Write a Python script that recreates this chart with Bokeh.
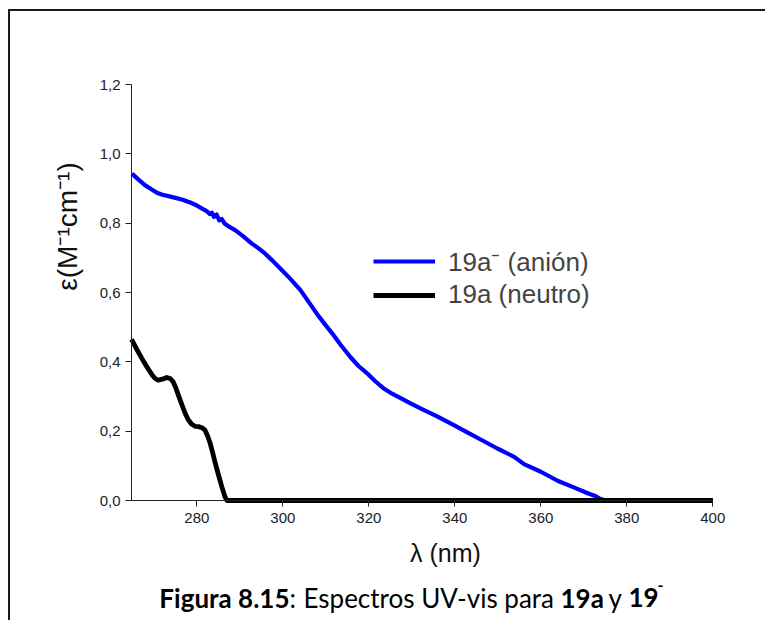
import math
from bokeh.plotting import figure
from bokeh.models import Range1d, FixedTicker, Label, Legend, LegendItem
from bokeh.embed import file_html
from bokeh.resources import INLINE

# ---- data ----
wl_anion = [264.9, 266.5, 268.0, 269.5, 270.7, 272.0, 273.4, 275.0, 276.5, 278.8,
            280.0, 281.2, 282.3, 283.0, 283.5, 284.0, 284.6, 285.2, 285.8, 286.5,
            287.5, 288.9, 290.8, 292.8, 294.3, 295.9, 297.6, 299.4, 301.7, 304.1,
            306.0, 307.9, 309.8, 311.8, 313.7, 315.7, 317.6, 319.6, 321.5, 323.5,
            325.4, 327.4, 329.7, 332.0, 336.0, 340.0, 343.0, 346.0, 349.9, 353.8,
            356.1, 360.0, 363.9, 367.8, 370.9, 372.5, 373.6, 375.0, 400.0]
eps_anion = [0.943, 0.925, 0.909, 0.897, 0.888, 0.882, 0.878, 0.873, 0.868, 0.858,
             0.851, 0.842, 0.835, 0.826, 0.830, 0.818, 0.825, 0.808, 0.812, 0.798,
             0.790, 0.780, 0.762, 0.741, 0.728, 0.712, 0.692, 0.669, 0.640, 0.607,
             0.573, 0.539, 0.508, 0.477, 0.445, 0.414, 0.388, 0.367, 0.344, 0.323,
             0.308, 0.295, 0.280, 0.266, 0.242, 0.216, 0.196, 0.176, 0.150, 0.126,
             0.105, 0.083, 0.057, 0.037, 0.021, 0.014, 0.006, 0.0, 0.0]

wl_neutral = [264.8, 266.0, 267.2, 268.4, 269.6, 270.3, 271.0, 272.0, 273.0, 273.8,
              274.5, 275.1, 275.7, 276.5, 277.3, 278.0, 278.8, 279.6, 280.4, 281.2,
              281.9, 282.5, 283.1, 283.7, 284.3, 285.0, 285.8, 286.5, 287.0, 400.0]
eps_neutral = [0.465, 0.437, 0.410, 0.385, 0.362, 0.352, 0.347, 0.350, 0.355, 0.352,
               0.342, 0.325, 0.304, 0.277, 0.251, 0.233, 0.220, 0.214, 0.213, 0.210,
               0.203, 0.186, 0.165, 0.137, 0.107, 0.075, 0.040, 0.012, 0.0, 0.0]

series_labels = ["19a\u207b (anión)", "19a (neutro)"]
x_bounds = (264.8, 400)
y_bounds = (0.0, 1.2)
x_ticks = [280, 300, 320, 340, 360, 380, 400]
y_ticks = [0.0, 0.2, 0.4, 0.6, 0.8, 1.0, 1.2]
y_tick_labels = ["0,0", "0,2", "0,4", "0,6", "0,8", "1,0", "1,2"]
x_title = "\u03bb (nm)"
y_title = "\u03b5(M\u207b\u00b9cm\u207b\u00b9)"
caption_parts = ["Figura 8.15", ":", "Espectros UV-vis para", "19a", "y", "19"]
caption_styles = ["bold", "normal", "normal", "bold", "normal", "bold"]
caption_sup = "-"

# ---- layout (page pixels) ----
W, H = 757, 611            # canvas size
OX, OY = 10, 11            # canvas origin on the page (margin + border)
AX_L, AX_R = 131.0, 712.3  # page x of x_bounds
AX_B, AX_T = 500.0, 84.0   # page y of y_bounds
kx = (AX_R - AX_L) / (x_bounds[1] - x_bounds[0])
ky = (AX_B - AX_T) / (y_bounds[1] - y_bounds[0])
xr0 = x_bounds[0] - (AX_L - OX) / kx
yr1 = y_bounds[1] + (AX_T - OY) / ky
TXT_DY = -9                # correction for the label baseline placement


def dx(px):
    return xr0 + (px - OX) / kx


def dy(py):
    return yr1 - (py - OY) / ky


AX_FONT = "Liberation Sans"
CAP_FONT = "Lato"

p = figure(width=W, height=H, output_backend="svg", toolbar_location=None,
           x_range=Range1d(xr0, xr0 + W / kx), y_range=Range1d(yr1 - H / ky, yr1),
           min_border=0, min_border_left=0, min_border_right=0,
           min_border_top=0, min_border_bottom=0,
           styles={"margin-left": "8px", "margin-top": "9px",
                   "border-top": "2px solid #1a1a1a", "border-left": "2px solid #1a1a1a"})
p.title.visible = False
p.grid.visible = False
p.outline_line_color = None
p.background_fill_color = "white"
p.border_fill_color = "white"

r1 = p.line(wl_anion, eps_anion, line_color="#0000ff", line_width=4.2, line_join="round")
r2 = p.line(wl_neutral, eps_neutral, line_color="#000000", line_width=4.8, line_join="round")

for ax in (p.xaxis[0], p.yaxis[0]):
    ax.axis_line_color = "#222222"
    ax.major_tick_line_color = "#222222"
    ax.major_tick_out = 6
    ax.major_tick_in = 0
    ax.minor_tick_line_color = None
    ax.major_label_text_font = AX_FONT
    ax.major_label_text_font_size = "15px"
    ax.major_label_text_color = "#222222"

p.xaxis.fixed_location = y_bounds[0]
p.xaxis.bounds = x_bounds
p.xaxis.ticker = FixedTicker(ticks=x_ticks)
p.xaxis.major_label_standoff = 6
p.yaxis.fixed_location = x_bounds[0]
p.yaxis.bounds = y_bounds
p.yaxis.ticker = FixedTicker(ticks=y_ticks)
p.yaxis.major_label_overrides = {t: s for t, s in zip(y_ticks, y_tick_labels)}
p.yaxis.major_label_standoff = 5

# axis titles
p.add_layout(Label(x=dx(67), y=dy(226), text=y_title, angle=math.pi / 2,
                   text_align="center", text_baseline="middle",
                   text_font=AX_FONT, text_font_size="28px", text_color="#111111"))
p.add_layout(Label(x=dx(445), y=dy(552), text=x_title,
                   text_align="center", text_baseline="middle",
                   text_font=AX_FONT, text_font_size="25px", text_color="#111111"))

# caption (mixed weights)
cap_px = [289, 289, 303, 560, 608, 628]
cap_align = ["right", "left", "left", "left", "left", "left"]
for txt, style, cx, al in zip(caption_parts, caption_styles, cap_px, cap_align):
    p.add_layout(Label(x=dx(cx), y=dy(606 + TXT_DY), text=txt, text_align=al,
                       text_baseline="alphabetic", text_font=CAP_FONT,
                       text_font_style=style, text_font_size="26px", text_color="#000000"))
p.add_layout(Label(x=dx(657), y=dy(594 + TXT_DY), text=caption_sup, text_align="left",
                   text_baseline="alphabetic", text_font=CAP_FONT, text_font_style="bold",
                   text_font_size="16px", text_color="#000000"))

legend = Legend(items=[LegendItem(label=series_labels[0], renderers=[r1]),
                       LegendItem(label=series_labels[1], renderers=[r2])],
                location=(373 - OX, H - (310 - OY)), padding=0, margin=0, spacing=0,
                glyph_width=62, glyph_height=24, label_height=24, label_standoff=13,
                label_text_font=AX_FONT, label_text_font_size="26px",
                border_line_alpha=0, background_fill_alpha=0)
p.add_layout(legend)

open("out.html", "w").write(file_html(p, INLINE))
